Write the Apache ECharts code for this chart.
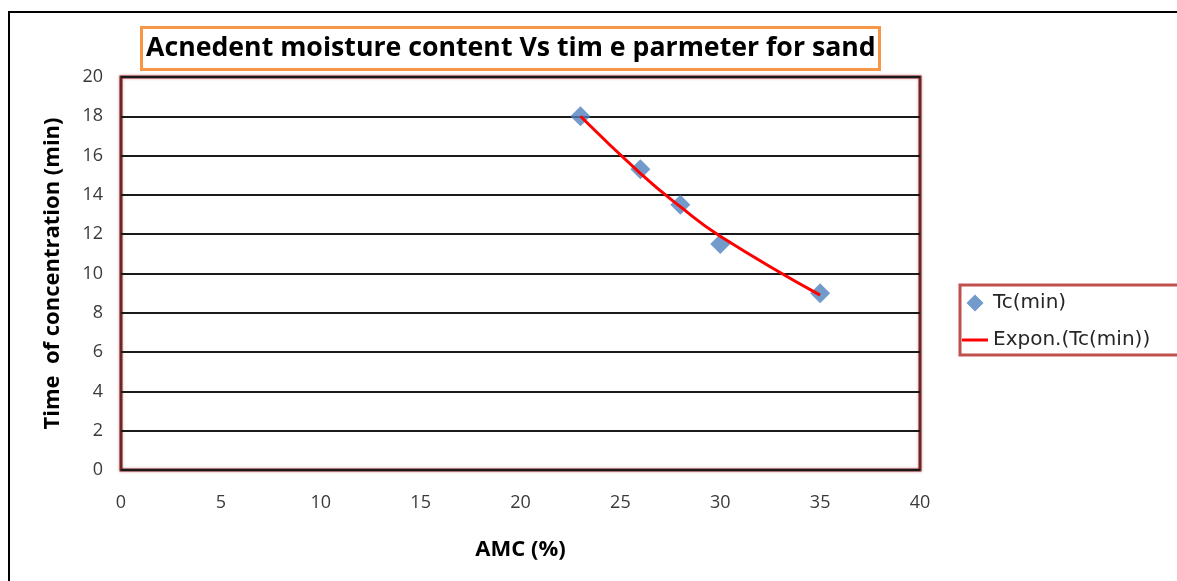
<!DOCTYPE html>
<html><head><meta charset="utf-8">
<script src="https://cdn.jsdelivr.net/npm/echarts@6/dist/echarts.min.js"></script>
<style>html,body{margin:0;padding:0;background:#fff}#c{width:1177px;height:581px}</style>
</head><body><div id="c"></div>
<script>
const amc = [23, 26, 28, 30, 35];
const tc = [18.0, 15.3, 13.5, 11.5, 9.0];
const trendX = [23, 26, 28, 30, 35];
const trendY = [18.0, 15.1, 13.4, 11.9, 8.9];
const xTicks = [0, 5, 10, 15, 20, 25, 30, 35, 40];
const yTicks = [0, 2, 4, 6, 8, 10, 12, 14, 16, 18, 20];

const chart = echarts.init(document.getElementById('c'));
const FF = '"Open Sans", sans-serif';
chart.setOption({
  animation: false,
  backgroundColor: '#fff',
  graphic: [{
    type: 'rect', shape: { x: 9, y: 12, width: 1200, height: 600 },
    style: { fill: 'none', stroke: '#000', lineWidth: 2 }, z: -1
  }],
  title: {
    text: 'Acnedent moisture content Vs tim e parmeter for sand',
    left: 141, top: 27,
    padding: [8, 4, 8, 5],
    borderColor: '#f79646', borderWidth: 3,
    textStyle: { fontFamily: FF, fontSize: 26.7, fontWeight: 'bold', color: '#000' }
  },
  legend: {
    orient: 'vertical', left: 960, top: 285,
    borderColor: '#c0504d', borderWidth: 3,
    padding: [8, 60, 5, 2],
    itemGap: 17, itemWidth: 26, itemHeight: 17,
    symbolKeepAspect: true,
    textStyle: { fontFamily: '"DejaVu Sans", sans-serif', fontSize: 20, color: '#262626' },
    data: [
      { name: 'Tc(min)', icon: 'path://M5,0 L10,5 L5,10 L0,5 Z' },
      { name: 'Expon.(Tc(min))', icon: 'path://M0,0 L26,0 L26,3 L0,3 Z' }
    ]
  },
  grid: {
    left: 121, top: 77, width: 799, height: 393,
    show: true, borderColor: '#6d2626', borderWidth: 3,
    shadowColor: 'rgba(200,60,60,0.5)', shadowBlur: 3, backgroundColor: '#fff'
  },
  xAxis: {
    type: 'value', min: 0, max: 40, interval: 5,
    name: 'AMC (%)', nameLocation: 'middle', nameGap: 69,
    nameTextStyle: { fontFamily: FF, fontSize: 22, fontWeight: 'bold', color: '#000' },
    axisLine: { show: false }, axisTick: { show: false }, splitLine: { show: false },
    axisLabel: { fontFamily: FF, fontSize: 18, color: '#3a3a3a', margin: 24,
      formatter: v => xTicks.includes(v) ? String(v) : '' }
  },
  yAxis: {
    type: 'value', min: 0, max: 20, interval: 2,
    name: 'Time  of concentration (min)', nameLocation: 'middle', nameGap: 57,
    nameTextStyle: { fontFamily: FF, fontSize: 22, fontWeight: 'bold', color: '#000' },
    axisLine: { show: false }, axisTick: { show: false },
    splitLine: { show: true, lineStyle: { color: '#1a1a1a', width: 1.8 } },
    axisLabel: { fontFamily: FF, fontSize: 18, color: '#3a3a3a', margin: 18,
      formatter: v => yTicks.includes(v) ? String(v) : '' }
  },
  series: [
    {
      name: 'Tc(min)', type: 'scatter', symbol: 'diamond', symbolSize: 20,
      itemStyle: { color: '#4f81bd' }, z: 3,
      data: amc.map((x, i) => [x, tc[i]])
    },
    {
      name: 'Expon.(Tc(min))', type: 'line', smooth: true, symbol: 'none',
      lineStyle: { color: '#ff0000', width: 3 }, itemStyle: { color: '#ff0000' }, z: 4,
      data: trendX.map((x, i) => [x, trendY[i]])
    }
  ]
});
</script></body></html>
